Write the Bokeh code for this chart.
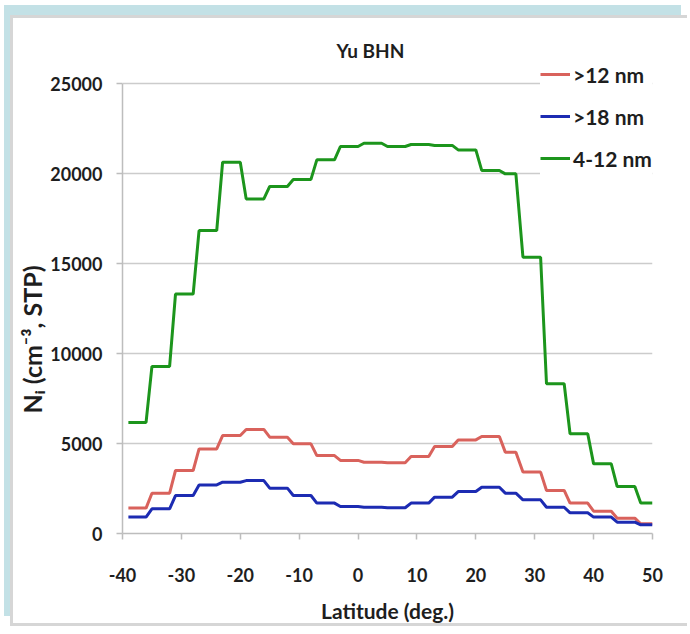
import math
from bokeh.plotting import figure
from bokeh.models import Legend, LegendItem, Label, FixedTicker, Title
from bokeh.embed import file_html
from bokeh.resources import INLINE

# Latitude bins (deg.): each bin is drawn as a flat segment from start to end
lat_start = [-39, -35, -31, -27, -23, -19, -15, -11, -7, -3, 1, 5, 9, 13, 17, 21, 25, 28, 32, 36, 40, 44, 48]
lat_end = [-36, -32, -28, -24, -20, -16, -12, -8, -4, 0, 4, 8, 12, 16, 20, 24, 26.8, 31, 35, 39, 43, 47, 50]

# Number concentrations (cm^-3, STP) per bin
n_gt12 = [1410, 2240, 3500, 4700, 5440, 5780, 5350, 4980, 4330, 4060, 3960, 3930,
          4280, 4830, 5200, 5390, 4520, 3410, 2390, 1690, 1240, 850, 540]
n_gt18 = [910, 1370, 2110, 2700, 2850, 2940, 2520, 2110, 1690, 1500, 1460, 1430,
          1690, 2020, 2330, 2570, 2240, 1870, 1460, 1150, 910, 630, 480]
n_4_12 = [6170, 9280, 13300, 16830, 20630, 18590, 19280, 19670, 20760, 21500, 21680, 21500,
          21610, 21560, 21310, 20170, 19980, 15350, 8320, 5540, 3870, 2610, 1690]

series_names = [">12 nm", ">18 nm", "4-12 nm"]
series_colors = ["#d9625c", "#1c2bb2", "#1c951c"]

x_ticks = [-40, -30, -20, -10, 0, 10, 20, 30, 40, 50]
x_tick_labels = ["-40", "-30", "-20", "-10", "0", "10", "20", "30", "40", "50"]
y_ticks = [0, 5000, 10000, 15000, 20000, 25000]

FONT = "Lato"
TEXT_COLOR = "#1e1e1e"

# the frame reaches above the 25000 line so that title and legend sit inside it
Y_TOP = 25000 * 503 / 450


def step_path(values):
    xs, ys = [], []
    for s, e, v in zip(lat_start, lat_end, values):
        xs += [s, e]
        ys += [v, v]
    return xs, ys


p = figure(width=677, height=611, x_range=(-40, 50), y_range=(0, Y_TOP),
           output_backend="svg", toolbar_location=None,
           min_border_left=107, min_border_right=38, min_border_top=12, min_border_bottom=96)

p.background_fill_color = "white"
p.border_fill_color = "white"
p.outline_line_color = None

# axes
for ax in (p.xaxis[0], p.yaxis[0]):
    ax.axis_line_color = "#bdbdbd"
    ax.axis_line_width = 1.5
    ax.major_tick_line_color = "#bdbdbd"
    ax.major_tick_line_width = 1.5
    ax.major_tick_out = 6
    ax.major_tick_in = 0
    ax.minor_tick_line_color = None
    ax.major_label_text_font = FONT
    ax.major_label_text_font_style = "bold"
    ax.major_label_text_font_size = "18px"
    ax.major_label_text_color = TEXT_COLOR

p.xaxis.ticker = FixedTicker(ticks=x_ticks)
p.xaxis.major_label_overrides = dict(zip(x_ticks, x_tick_labels))
p.yaxis.ticker = FixedTicker(ticks=y_ticks)
p.yaxis.bounds = (0, 25000)
p.xaxis.major_label_standoff = 28
p.yaxis.major_label_standoff = 14

p.xaxis.axis_label = "Latitude (deg.)"
p.xaxis.axis_label_text_font = FONT
p.xaxis.axis_label_text_font_style = "bold"
p.xaxis.axis_label_text_font_size = "21px"
p.xaxis.axis_label_text_color = TEXT_COLOR
p.xaxis.axis_label_standoff = 13

p.xgrid.grid_line_color = None
p.ygrid.grid_line_color = "#cccccc"
p.ygrid.grid_line_width = 1.5

renderers = []
for vals, color in zip([n_gt12, n_gt18, n_4_12], series_colors):
    xs, ys = step_path(vals)
    r = p.line(xs, ys, line_color=color, line_width=3)
    renderers.append(r)

legend = Legend(items=[LegendItem(label=n, renderers=[r]) for n, r in zip(series_names, renderers)],
                location=(418, 358))
legend.label_text_font = FONT
legend.label_text_font_style = "bold"
legend.label_text_font_size = "21px"
legend.label_text_color = TEXT_COLOR
legend.glyph_width = 30
legend.glyph_height = 34
legend.label_height = 34
legend.label_standoff = 3
legend.spacing = 8
legend.padding = 0
legend.margin = 0
legend.border_line_color = None
legend.background_fill_color = "white"
legend.background_fill_alpha = 1.0
p.add_layout(legend)

# chart title inside the upper part of the frame
p.add_layout(Label(x=248, y=483, x_units="screen", y_units="screen", text="Yu BHN",
                   text_font=FONT, text_font_style="bold", text_font_size="19px",
                   text_color=TEXT_COLOR, text_align="center", text_baseline="middle"))

# y-axis title as a side title, starting some way above the frame bottom
ytitle = Title(text="N\u1d62 (cm\u207b\u00b3, STP)", align="left", offset=120,
               text_font=FONT, text_font_style="bold", text_font_size="25px",
               text_color=TEXT_COLOR, standoff=2)
p.add_layout(ytitle, "left")

# page frame around the chart
p.styles = {
    "margin-left": "10px",
    "margin-top": "15px",
    "border-left": "3px solid #d6d6d6",
    "border-top": "3px solid #d6d6d6",
    "border-bottom": "3px solid #d6d6d6",
    "box-shadow": "-6px -10px 0 0 #c3e1e6",
}

open("out.html", "w").write(file_html(p, INLINE))
